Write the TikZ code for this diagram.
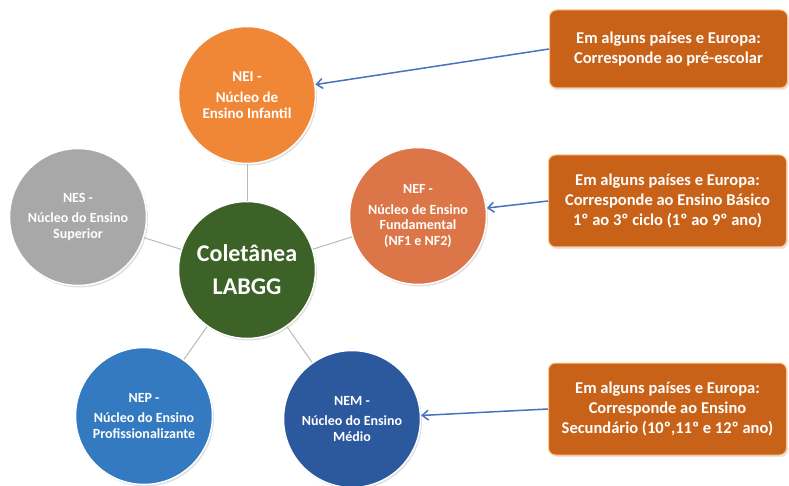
\documentclass[tikz,border=0pt]{standalone}
\usepackage{fontspec}
\setmainfont{Carlito}
\usepackage{tikz}
\usetikzlibrary{arrows.meta}
\usetikzlibrary{shadows}

\definecolor{neiorange}{RGB}{240,135,55}
\definecolor{nefsalmon}{RGB}{220,118,72}
\definecolor{nesgray}{RGB}{168,168,168}
\definecolor{labgggreen}{RGB}{60,98,40}
\definecolor{nepblue}{RGB}{52,122,192}
\definecolor{nemblue}{RGB}{44,88,158}
\definecolor{notaorange}{RGB}{200,98,24}
\definecolor{setablue}{RGB}{70,114,190}

\tikzset{
  nucleo/.style={circle, minimum size=137pt, inner sep=0pt, draw=white, line width=1.5pt,
    text=white, align=center, font=\bfseries\fontsize{14}{15.5}\selectfont,
    drop shadow={opacity=0.25, shadow xshift=1.5pt, shadow yshift=-2pt}},
  nota/.style={rounded corners=7pt, fill=notaorange, draw=orange!45, line width=1pt,
    text=white, align=center, minimum width=238pt, inner sep=0pt,
    font=\bfseries\fontsize{16.5}{20}\selectfont,
    drop shadow={opacity=0.2, shadow xshift=1.5pt, shadow yshift=-2pt}},
  ligacao/.style={draw=gray!55, line width=1pt},
  seta/.style={draw=setablue, line width=1.5pt, -{Straight Barb[length=6pt, width=10pt]}}
}

\begin{document}
\begin{tikzpicture}[x=1pt, y=-1pt]
\useasboundingbox (0,0) rectangle (789,486);
\coordinate (pnei) at (247,95);
\coordinate (pnes) at (78,217);
\coordinate (pnef) at (418,216);
\coordinate (plabgg) at (247,270);
\coordinate (pnep) at (144,416);
\coordinate (pnem) at (352,419);
% draws the nuclei
\node[nucleo, fill=neiorange, font=\bfseries\fontsize{15}{16}\selectfont] (nei) at (pnei)
  {NEI -\\[5pt] Núcleo de\\ Ensino Infantil};
\node[nucleo, fill=nesgray] (nes) at (pnes)
  {NES -\\[5pt] Núcleo do Ensino\\ Superior};
\node[nucleo, fill=nefsalmon] (nef) at (pnef)
  {NEF -\\[5pt] Núcleo de Ensino\\ Fundamental\\ (NF1 e NF2)};
\node[nucleo, fill=nepblue] (nep) at (pnep)
  {NEP -\\[5pt] Núcleo do Ensino\\ Profissionalizante};
\node[nucleo, fill=nemblue] (nem) at (pnem)
  {NEM -\\[5pt] Núcleo do Ensino\\ Médio};
\node[nucleo, fill=labgggreen, font=\bfseries\fontsize{24}{33}\selectfont] (labgg) at (plabgg)
  {Coletânea\\ LABGG};
% draws the notes
\node[nota, minimum height=78pt] (nota1) at (668.5,49)
  {Em alguns países e Europa:\\ Corresponde ao pré-escolar};
\node[nota, minimum height=92pt] (nota2) at (667.5,201)
  {Em alguns países e Europa:\\ Corresponde ao Ensino Básico\\ 1º ao 3º ciclo (1º ao 9º ano)};
\node[nota, minimum height=92pt] (nota3) at (667.5,409)
  {Em alguns países e Europa:\\ Corresponde ao Ensino\\ Secundário (10º,11º e 12º ano)};
% draws links
\draw[ligacao] (labgg) -- (nei);
\draw[ligacao] (labgg) -- (nes);
\draw[ligacao] (labgg) -- (nef);
\draw[ligacao] (labgg) -- (nep);
\draw[ligacao] (labgg) -- (nem);
% draws arrows
\draw[seta] (nota1.west) -- (nei);
\draw[seta] (nota2.west) -- (nef);
\draw[seta] (nota3.west) -- (nem);
\end{tikzpicture}
\end{document}
